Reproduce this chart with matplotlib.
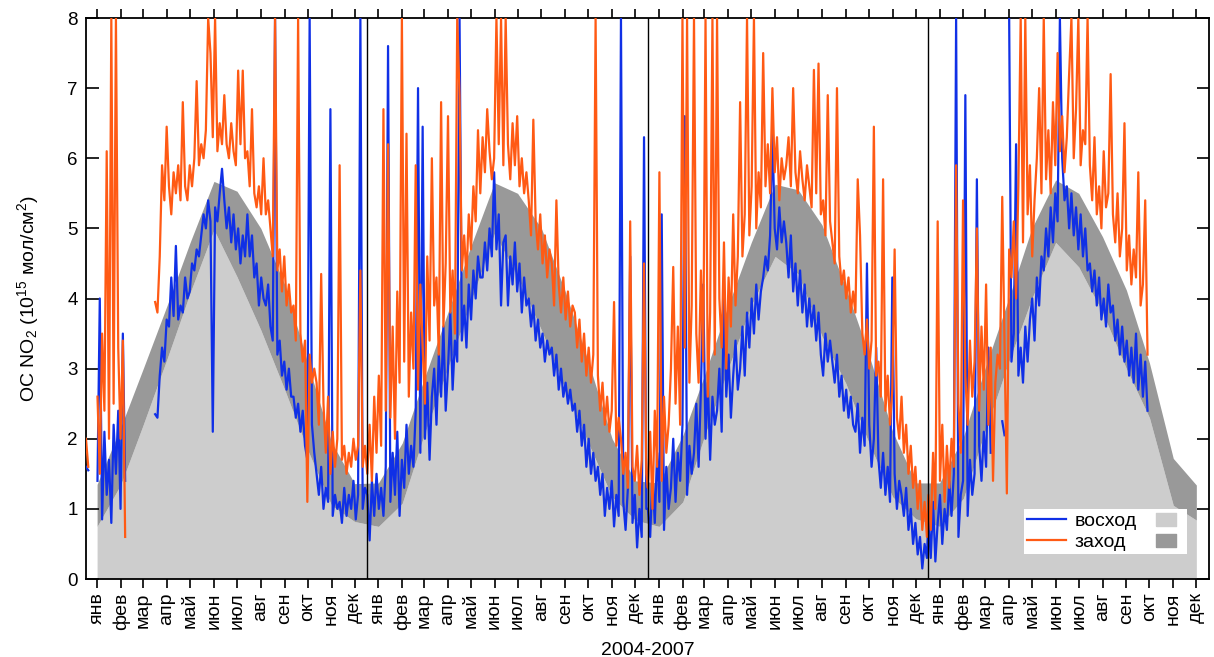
import numpy as np
import matplotlib
matplotlib.use('Agg')
import matplotlib.pyplot as plt
from matplotlib.lines import Line2D

plt.rcParams['font.family'] = ['Liberation Sans', 'DejaVu Sans']
plt.rcParams['mathtext.fontset'] = 'custom'
plt.rcParams['mathtext.rm'] = 'Liberation Sans'
plt.rcParams['mathtext.it'] = 'Liberation Sans:italic'

nan = np.nan

month_names = ['янв', 'фев', 'мар', 'апр', 'май', 'июн',
               'июл', 'авг', 'сен', 'окт', 'ноя', 'дек']
years = [2004, 2005, 2006, 2007]

# climatology bands, one value per month (mid-month)
low_2004 = [0.75, 1.35, 2.2, 3.14, 4.08, 4.98, 4.31, 3.55, 2.70, 1.84, 1.05, 0.82]
up_2004 = [1.35, 2.17, 3.0, 3.9, 4.8, 5.67, 5.53, 5.0, 4.2, 3.08, 1.95, 1.36]
low_2005 = [0.75, 1.08, 2.04, 3.0, 3.95, 4.93, 4.31, 3.55, 2.70, 1.94, 1.17, 0.84]
up_2005 = [1.37, 1.94, 2.84, 3.79, 4.74, 5.65, 5.5, 5.0, 4.1, 3.1, 2.0, 1.4]
low_2006 = [0.75, 1.1, 2.03, 3.0, 3.9, 4.6, 4.35, 3.46, 2.79, 1.94, 1.17, 0.86]
up_2006 = [1.37, 2.05, 2.9, 3.9, 4.8, 5.63, 5.55, 5.05, 4.15, 3.2, 2.1, 1.37]
low_2007 = [0.75, 1.15, 2.1, 3.1, 4.0, 4.8, 4.45, 3.8, 3.0, 2.3, 1.05, 0.84]
up_2007 = [1.37, 2.03, 3.0, 4.0, 5.0, 5.69, 5.5, 4.88, 4.12, 3.08, 1.72, 1.34]

# slant column NO2, one value every 3 days from 1 January, one row per month
sunrise_2004 = [
    1.6, 1.55, nan, nan, nan, 1.4, 4.0, 0.85, 2.1, 1.2,
    1.7, 0.8, 2.2, 1.5, 2.4, 1.0, 3.5, 1.4, nan, nan,
    nan, nan, nan, nan, nan, nan, nan, nan, nan, nan,
    2.35, 2.3, 2.9, 3.3, 3.1, 3.7, 3.6, 4.3, 3.75, 4.75,
    3.7, 3.9, 3.8, 4.3, 4.0, 4.1, 4.5, 4.4, 4.7, 4.6,
    4.9, 5.2, 5.0, 5.4, 5.1, 2.1, 5.3, 5.1, 5.5, 5.85,
    5.4, 5.0, 5.3, 4.8, 5.2, 4.7, 5.0, 4.5, 4.9, 4.6,
    5.2, 4.6, 4.9, 4.3, 4.5, 3.9, 4.3, 4.0, 3.9, 4.2,
    3.6, 3.4, 8.0, 3.2, 3.4, 2.9, 3.1, 2.7, 3.0, 2.6,
    2.6, 2.3, 2.5, 2.1, 2.4, 1.9, 1.7, 8.0, 2.2, 1.8,
    1.5, 1.2, 1.6, 1.0, 1.3, 1.1, 6.7, 0.9, 1.2, 1.0,
    1.1, 0.8, 1.3, 0.9, 1.2, 1.0, 1.4, 0.85, 1.2, 8.0, 1.0, 1.3]
sunset_2004 = [
    2.0, 1.6, nan, nan, nan, 2.6, 1.5, 3.5, 2.4, 6.1,
    2.0, 8.0, 2.5, 8.0, 3.3, 2.0, 3.4, 0.6, nan, nan,
    nan, nan, nan, nan, nan, nan, nan, nan, nan, nan,
    3.95, 3.8, 4.6, 5.9, 5.4, 6.45, 5.6, 5.2, 5.8, 5.5,
    5.9, 5.4, 6.8, 5.6, 5.4, 5.9, 5.6, 6.0, 7.1, 5.9,
    6.2, 6.0, 6.4, 8.0, 7.5, 6.3, 8.0, 6.1, 6.5, 6.2,
    6.9, 6.2, 6.0, 6.5, 6.1, 5.9, 7.25, 6.2, 7.25, 6.0,
    6.1, 5.6, 6.7, 5.5, 5.3, 5.6, 5.2, 6.0, 5.2, 5.4,
    5.0, 4.6, 8.0, 4.4, 4.7, 4.1, 4.6, 3.9, 4.2, 3.8,
    3.9, 3.4, 8.0, 3.5, 3.1, 3.4, 1.1, 3.2, 2.8, 3.0,
    2.8, 2.2, 4.35, 2.5, 1.8, 2.6, 1.5, 2.1, 1.6, 2.0,
    5.9, 1.7, 1.9, 1.5, 1.8, 1.6, 2.0, 1.7, 1.9, 4.4, 1.6, 1.9]

sunrise_2005 = [
    1.2, 0.55, 1.4, 0.9, 1.5, 1.0, 1.3, 0.9, 1.6, 7.6,
    1.1, 1.8, 1.2, 2.1, 0.9, 1.7, 1.3, 2.2, 1.5, 1.9,
    1.6, 2.4, 7.0, 1.8, 6.45, 2.0, 2.8, 1.7, 2.6, 3.0,
    2.2, 3.2, 2.6, 3.6, 2.4, 3.0, 3.8, 2.7, 3.4, 3.1,
    8.0, 3.4, 3.9, 3.3, 4.2, 3.7, 4.4, 4.0, 4.6, 4.3,
    4.3, 4.8, 4.4, 5.0, 4.6, 5.8, 4.7, 5.2, 3.9, 4.8,
    4.9, 3.9, 4.6, 4.2, 4.8, 4.1, 4.5, 3.8, 4.3, 3.9,
    4.0, 3.6, 3.9, 3.4, 3.7, 3.3, 3.5, 3.1, 3.4, 3.2,
    3.3, 2.9, 3.2, 2.7, 3.0, 2.6, 2.8, 2.5, 2.7, 2.4,
    2.5, 2.1, 2.4, 1.9, 2.2, 1.6, 2.0, 1.5, 1.8, 1.4,
    1.6, 1.2, 1.5, 0.9, 1.3, 1.0, 1.4, 0.75, 1.2, 0.9,
    8.0, 1.1, 0.7, 1.3, 4.6, 0.8, 1.2, 0.45, 1.0, 0.6, 6.3, 1.0]
sunset_2005 = [
    1.5, 2.2, 1.4, 2.6, 1.8, 2.9, 1.9, 6.7, 2.4, 6.2,
    2.3, 3.6, 2.0, 4.1, 2.8, 8.0, 3.1, 6.35, 2.6, 3.8,
    3.0, 5.9, 2.7, 4.2, 3.3, 2.5, 4.6, 3.4, 6.0, 3.9,
    4.3, 3.2, 6.8, 3.6, 4.5, 6.6, 3.8, 4.4, 3.5, 8.0,
    6.9, 4.4, 4.9, 4.3, 5.2, 4.7, 5.6, 5.1, 6.4, 5.5,
    6.3, 5.8, 6.7, 6.1, 5.7, 6.0, 8.0, 6.2, 8.0, 5.9,
    8.0, 6.2, 5.7, 6.5, 5.9, 6.6, 5.6, 6.0, 5.5, 5.8,
    5.4, 4.9, 6.55, 5.1, 4.7, 5.2, 4.5, 4.9, 4.3, 4.7,
    4.5, 3.9, 5.4, 4.2, 3.8, 4.3, 3.7, 4.1, 3.6, 3.9,
    3.8, 3.3, 3.7, 3.1, 3.5, 2.9, 3.3, 2.8, 3.2, 8.0,
    2.9, 2.4, 2.8, 2.2, 2.6, 2.1, 2.4, 3.95, 1.9, 2.3,
    2.0, 1.5, 1.8, 1.3, 5.1, 1.6, 1.4, 1.9, 1.2, 1.7, 4.5, 1.5]

sunrise_2006 = [
    1.0, 0.6, 1.5, 0.8, 1.8, 1.1, 5.2, 0.7, 1.6, 1.0,
    1.3, 2.0, 1.1, 1.8, 1.4, 2.2, 6.6, 1.2, 1.9, 1.5,
    1.8, 2.5, 1.6, 2.7, 4.2, 2.0, 2.8, 1.7, 2.6, 2.2,
    2.4, 3.0, 2.1, 4.0, 2.6, 3.2, 2.3, 2.9, 3.4, 2.7,
    3.0, 3.6, 2.9, 3.8, 3.3, 4.0, 3.5, 4.2, 3.7, 4.1,
    4.3, 4.6, 4.4, 4.9, 6.4, 5.0, 4.7, 5.3, 4.8, 5.1,
    4.8, 4.3, 4.9, 4.1, 4.5, 3.9, 4.4, 3.8, 4.2, 3.6,
    4.0, 3.6, 3.9, 3.4, 3.8, 3.2, 2.9, 3.5, 3.1, 3.4,
    3.1, 2.8, 3.2, 2.6, 2.9, 2.4, 2.7, 2.3, 2.6, 2.2,
    2.1, 2.5, 1.8, 2.3, 1.9, 4.5, 2.2, 1.6, 2.0, 3.3,
    1.7, 1.3, 1.8, 1.2, 1.6, 1.1, 4.3, 1.5, 1.0, 1.4,
    1.2, 0.9, 1.3, 0.7, 1.0, 0.5, 0.8, 0.35, 0.6, 0.15, 0.5, 0.3]
sunset_2006 = [
    1.3, 2.1, 1.0, 2.4, 1.6, 5.8, 1.4, 2.6, 1.8, 2.2,
    3.0, 4.45, 2.5, 3.6, 2.2, 8.0, 3.3, 8.0, 2.8, 3.9,
    8.0, 3.5, 2.8, 4.4, 3.1, 8.0, 2.6, 3.8, 8.0, 3.2,
    8.0, 4.0, 3.3, 4.8, 3.0, 4.3, 3.6, 5.2, 3.9, 4.6,
    6.8, 4.6, 5.2, 8.0, 4.9, 5.6, 8.0, 5.0, 5.8, 5.3,
    7.5, 5.6, 6.2, 5.5, 7.0, 5.8, 6.3, 5.4, 6.0, 5.7,
    5.9, 6.3, 5.6, 7.0, 5.8, 5.5, 6.1, 5.7, 5.4, 5.9,
    5.6, 5.3, 7.26, 5.5, 7.35, 5.2, 5.4, 4.9, 6.9, 5.1,
    4.8, 4.5, 7.0, 4.6, 4.2, 4.4, 4.0, 4.3, 3.8, 4.1,
    3.8, 5.7, 4.9, 3.5, 3.2, 3.7, 3.0, 3.4, 6.45, 2.9,
    3.1, 2.6, 5.7, 2.4, 2.9, 2.2, 2.7, 4.7, 2.3, 2.0,
    2.6, 1.8, 2.2, 1.5, 1.9, 1.3, 1.6, 1.0, 1.4, 0.7, 1.1, 0.6]

sunrise_2007 = [
    0.9, 0.3, 1.1, 0.25, 0.8, 1.2, 0.5, 1.0, 0.7, 1.4,
    0.9, 1.5, 8.0, 0.6, 1.2, 1.4, 6.9, 0.9, 1.7, 1.2,
    1.5, 5.7, 1.9, 1.4, 2.1, 1.6, 3.3, 1.8, nan, nan,
    nan, nan, 2.25, 2.05, nan, 8.0, 3.1, 3.5, 6.2, 2.9,
    3.3, 2.8, 3.6, 3.1, 3.7, 4.0, 3.4, 4.3, 3.9, 4.6,
    4.4, 5.0, 4.6, 5.3, 4.8, 5.5, 5.1, 8.0, 6.0, 5.4,
    5.6, 5.0, 5.5, 4.9, 5.3, 4.7, 5.2, 4.6, 5.0, 4.4,
    4.5, 4.1, 4.4, 3.9, 4.3, 3.7, 4.0, 3.6, 4.2, 3.8,
    3.9, 3.4, 3.7, 3.2, 3.6, 3.1, 3.4, 2.9, 3.3, 2.8,
    3.5, 2.7, 3.2, 2.6, 3.1, 2.4]
sunset_2007 = [
    1.2, 0.7, 1.8, 1.0, 5.1, 1.4, 2.2, 1.1, 1.9, 1.3,
    2.0, 1.6, 5.9, 2.5, 1.8, 5.4, 2.9, 2.2, 3.4, 2.6,
    3.1, 5.0, 2.4, 3.6, 2.7, 4.2, 2.2, 3.3, 1.4, 2.8,
    3.2, 3.0, 5.45, 3.3, 1.22, 4.7, 4.3, 5.1, 4.0, 5.6,
    8.0, 4.8, 8.0, 5.2, 5.9, 4.6, 5.4, 6.0, 7.0, 5.5,
    8.0, 5.7, 6.4, 5.5, 6.8, 5.9, 7.5, 6.1, 6.6, 5.8,
    6.3, 7.2, 8.0, 6.0, 6.7, 8.0, 5.9, 6.4, 6.2, 8.0,
    5.9, 5.4, 6.3, 5.2, 5.6, 5.0, 6.1, 5.3, 5.5, 7.2,
    5.2, 4.8, 5.5, 4.6, 5.0, 6.5, 4.4, 4.9, 4.2, 4.7,
    4.3, 5.8, 3.9, 4.2, 5.4, 3.2]

blue = '#1030e6'
orange = '#ff5a14'
light = '#cdcdcd'
dark = '#999999'

t0 = np.datetime64('2004-01-01')
year_start = [(np.datetime64(f'{y}-01-01') - t0).astype(int) for y in years]
month_start = (np.arange('2004-01', '2008-01', dtype='datetime64[M]')
               .astype('datetime64[D]') - t0).astype(int)
month_mid = month_start + 14.5

band_low = np.concatenate([low_2004, low_2005, low_2006, low_2007])
band_up = np.concatenate([up_2004, up_2005, up_2006, up_2007])

rise = [sunrise_2004, sunrise_2005, sunrise_2006, sunrise_2007]
sset = [sunset_2004, sunset_2005, sunset_2006, sunset_2007]
rise_x = np.concatenate([s + 3 * np.arange(len(v)) for s, v in zip(year_start, rise)])
sset_x = np.concatenate([s + 3 * np.arange(len(v)) for s, v in zip(year_start, sset)])

fig = plt.figure(figsize=(12.14, 6.57), dpi=100)
ax = fig.add_axes([0.0708, 0.1187, 0.9251, 0.8539])

ax.fill_between(month_mid, 0, band_low, color=light, lw=0, zorder=1)
ax.fill_between(month_mid, band_low, band_up, color=dark, lw=0, zorder=1)

ax.plot(rise_x, np.concatenate(rise), color=blue, lw=1.6, zorder=3)
ax.plot(sset_x, np.concatenate(sset), color=orange, lw=1.6, zorder=4)

for s in year_start[1:]:
    ax.axvline(s, color='black', lw=1.0, zorder=5)

ax.set_xlim(0, 1461)
ax.set_ylim(0, 8)
ax.set_yticks(range(9))
ax.set_xticks(month_mid)
ax.set_xticklabels(month_names * 4, rotation=90)
ax.tick_params(axis='y', direction='in', length=9, width=1.2,
               left=True, right=True, labelsize=13.5, pad=6)
ax.tick_params(axis='x', direction='out', length=6.5, width=1.2,
               top=True, bottom=True, labelsize=14, pad=3)
for sp in ax.spines.values():
    sp.set_linewidth(1.3)

ax.set_ylabel('ОС NO$_2$ (10$^{15}$ мол/см$^2$)', fontsize=14)
ax.yaxis.set_label_coords(-0.040, 0.5)
ax.set_xlabel('2004-2007', fontsize=14)
ax.xaxis.set_label_coords(0.5, -0.112)

# swatches for the two bands, drawn to the right of the handle centre
swatch = [(0, -0.65), (2, -0.65), (2, 0.65), (0, 0.65), (0, -0.65)]
handles = [Line2D([], [], color=blue, lw=1.6),
           Line2D([], [], color=orange, lw=1.6),
           Line2D([], [], marker=swatch, ms=28.8, ls='none', color=light),
           Line2D([], [], marker=swatch, ms=28.8, ls='none', color=dark)]
leg = ax.legend(handles, ['восход', 'заход', '', ''], ncol=2,
                loc='lower right', bbox_to_anchor=(0.9804, 0.0446),
                fontsize=14, frameon=True, fancybox=False, framealpha=1,
                edgecolor='none', handlelength=2.05, handletextpad=0.4,
                columnspacing=0.0, borderpad=0.15, labelspacing=0.18,
                borderaxespad=0)
leg.set_zorder(6)

fig.savefig('out.png', dpi=100)
